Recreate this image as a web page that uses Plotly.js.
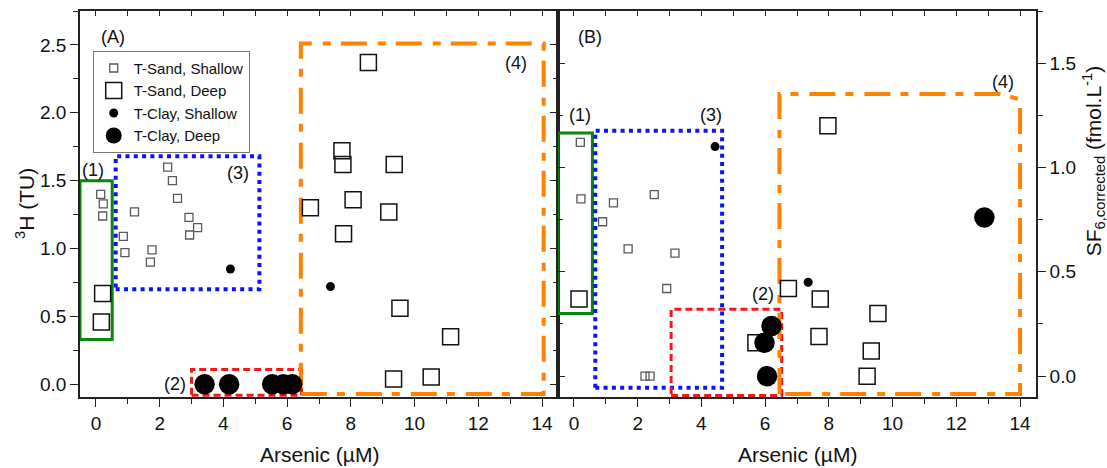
<!DOCTYPE html>
<html>
<head>
<meta charset="utf-8">
<script src="https://cdn.plot.ly/plotly-3.0.1.min.js"></script>
<style>html,body{margin:0;padding:0;background:#fff;}#chart{width:1107px;height:468px;}</style>
</head>
<body>
<div id="chart"></div>
<script>
// ---------- Data: panel (A) tritium vs arsenic ----------
const seriesNames = ["T-Sand, Shallow", "T-Sand, Deep", "T-Clay, Shallow", "T-Clay, Deep"];

const A_sandShallow_x = [0.15, 0.23, 0.21, 0.86, 0.91, 1.21, 1.71, 1.76, 2.25, 2.40, 2.56, 2.92, 2.94, 3.19];
const A_sandShallow_y = [1.40, 1.33, 1.24, 1.09, 0.97, 1.27, 0.90, 0.99, 1.60, 1.50, 1.37, 1.23, 1.10, 1.155];
const A_sandDeep_x = [0.21, 0.17, 8.55, 7.72, 7.75, 9.36, 6.73, 8.07, 9.19, 7.77, 9.54, 11.13, 9.34, 10.52];
const A_sandDeep_y = [0.67, 0.46, 2.37, 1.72, 1.62, 1.62, 1.30, 1.36, 1.27, 1.11, 0.56, 0.35, 0.04, 0.054];
const A_clayShallow_x = [4.22, 7.36];
const A_clayShallow_y = [0.85, 0.72];
const A_clayDeep_x = [3.41, 4.18, 5.53, 5.88, 6.16];
const A_clayDeep_y = [0.0, 0.0, 0.0, 0.0, 0.0];

// ---------- Data: panel (B) SF6 vs arsenic ----------
const B_sandShallow_x = [0.20, 0.22, 1.24, 2.52, 0.90, 1.70, 3.17, 2.91, 2.23, 2.39];
const B_sandShallow_y = [1.12, 0.85, 0.83, 0.87, 0.74, 0.61, 0.59, 0.42, 0.0, 0.0];
const B_sandDeep_x = [0.16, 5.71, 6.73, 7.73, 7.69, 7.97, 9.54, 9.33, 9.20];
const B_sandDeep_y = [0.37, 0.16, 0.42, 0.37, 0.19, 1.20, 0.30, 0.12, 0.0];
const B_clayShallow_x = [4.43, 7.35];
const B_clayShallow_y = [1.10, 0.45];
const B_clayDeep_x = [6.20, 5.98, 6.06, 12.88];
const B_clayDeep_y = [0.24, 0.16, 0.00, 0.76];

// group boxes (data units)  [x0, x1, y0, y1]
const A_box1 = [-0.5, 0.51, 0.33, 1.50];
const A_box2 = [3.0, 6.45, -0.08, 0.11];
const A_box3 = [0.62, 5.13, 0.70, 1.68];
const A_box4 = [6.43, 14.05, -0.07, 2.51];
const B_box1 = [-0.5, 0.58, 0.30, 1.165];
const B_box2 = [3.05, 6.52, -0.093, 0.32];
const B_box3 = [0.67, 4.65, -0.056, 1.176];
const B_box4_x = [6.45, 6.45, 13.35, 14.0, 14.0];
const B_box4_y = [-0.086, 1.352, 1.352, 1.327, -0.086];

const boxLabels = ["(1)", "(2)", "(3)", "(4)"];
const A_labelX = [-0.09, 2.48, 4.45, 13.19];
const A_labelY = [1.58, 0.0, 1.556, 2.365];
const B_labelX = [0.2, 5.94, 4.30, 13.47];
const B_labelY = [1.25, 0.396, 1.25, 1.41];

const xTitle = "Arsenic (\u00b5M)";
const yTitleA = "<sup>3</sup>H (TU)";
const yTitleB = "SF<sub>6,corrected</sub> (fmol.L<sup>-1</sup>)";

// ---------- styles ----------
const FONT = "Liberation Sans, Arial, Helvetica, sans-serif";
const styles = [
  {symbol: "square-open", size: 8, color: "#5a5a5a", lw: 1.3},
  {symbol: "square-open", size: 16, color: "#111", lw: 1.5},
  {symbol: "circle", size: 9, color: "#000", lw: 0},
  {symbol: "circle", size: 20.5, color: "#000", lw: 0}
];

function mk(x, y, i, xa, ya, showleg) {
  const s = styles[i];
  return {
    type: "scatter", mode: "markers", x: x, y: y, name: seriesNames[i],
    legendgroup: "g" + i, showlegend: showleg, xaxis: xa, yaxis: ya,
    marker: {symbol: s.symbol, size: s.size, color: s.color, line: {width: s.lw, color: s.color}},
    hoverinfo: "x+y"
  };
}

const traces = [
  mk(A_sandShallow_x, A_sandShallow_y, 0, "x", "y", true),
  mk(A_sandDeep_x, A_sandDeep_y, 1, "x", "y", true),
  mk(A_clayShallow_x, A_clayShallow_y, 2, "x", "y", true),
  mk(A_clayDeep_x, A_clayDeep_y, 3, "x", "y", true),
  mk(B_sandShallow_x, B_sandShallow_y, 0, "x2", "y2", false),
  mk(B_sandDeep_x, B_sandDeep_y, 1, "x2", "y2", false),
  mk(B_clayShallow_x, B_clayShallow_y, 2, "x2", "y2", false),
  mk(B_clayDeep_x, B_clayDeep_y, 3, "x2", "y2", false),
  {type: "scatter", x: [], y: [], xaxis: "x3", yaxis: "y3", showlegend: false, hoverinfo: "skip"},
  {type: "scatter", x: [], y: [], xaxis: "x4", yaxis: "y4", showlegend: false, hoverinfo: "skip"}
];

const XR = [-0.5, 14.5];
const YRA = [-0.093, 2.75];
const YRB = [-0.1, 1.75];
const AX = {showline: true, linecolor: "#222", linewidth: 1.6, showgrid: false, zeroline: false,
            tickcolor: "#222", tickwidth: 1.4, tickfont: {family: FONT, size: 19, color: "#111"}};

function xBottom(domain, anchor) {
  return Object.assign({}, AX, {domain: domain, anchor: anchor, range: XR, tick0: 0, dtick: 2,
    ticks: "outside", ticklen: 8, minor: {dtick: 1, tick0: 0, ticks: "outside", ticklen: 5, tickwidth: 1.4, tickcolor: "#222", showgrid: false}});
}
function xTop(over, anchor) {
  return Object.assign({}, AX, {overlaying: over, anchor: anchor, side: "top", range: XR, tick0: 0, dtick: 1,
    ticks: "inside", ticklen: 5, showticklabels: false});
}
function yAx(range, side, anchor, ticks, labels, over, len) {
  const o = Object.assign({}, AX, {range: range, side: side, anchor: anchor, tick0: 0, dtick: 0.5,
    tickformat: ".1f", ticks: ticks, ticklen: len, showticklabels: labels,
    minor: {dtick: 0.25, tick0: 0, ticks: ticks, ticklen: 5, tickwidth: 1.4, tickcolor: "#222", showgrid: false}});
  if (over) o.overlaying = over;
  return o;
}

function rect(b, xr, yr, color, width, dash) {
  return {type: "rect", xref: xr, yref: yr, x0: b[0], x1: b[1], y0: b[2], y1: b[3], layer: "below",
          line: {color: color, width: width, dash: dash}};
}
const GREEN = "#0b850b", BLUE = "#0a14f5", RED = "#f01818", ORANGE = "#ff8205";
const DOT = "4px,4.3px", DASH = "7px,4px", DASHDOT = "26px,10px,8px,11px";

let pathB4 = "";
for (let i = 0; i < B_box4_x.length; i++) pathB4 += (i ? " L " : "M ") + B_box4_x[i] + "," + B_box4_y[i];
pathB4 += " Z";

const shapes = [
  rect(A_box1, "x", "y", GREEN, 3, "solid"),
  rect(A_box3, "x", "y", BLUE, 4, DOT),
  rect(A_box2, "x", "y", RED, 3, DASH),
  rect(A_box4, "x", "y", ORANGE, 4, DASHDOT),
  rect(B_box1, "x2", "y2", GREEN, 3, "solid"),
  rect(B_box3, "x2", "y2", BLUE, 4, DOT),
  rect(B_box2, "x2", "y2", RED, 3, DASH),
  {type: "path", xref: "x2", yref: "y2", path: pathB4, layer: "below", line: {color: ORANGE, width: 4, dash: DASHDOT}}
];

const annFont = {family: FONT, size: 18, color: "#111"};
function ann(xr, yr, x, y, text, font, angle) {
  const a = {xref: xr, yref: yr, x: x, y: y, text: text, showarrow: false, font: font,
             xanchor: "center", yanchor: "middle"};
  if (angle) a.textangle = angle;
  return a;
}
const annotations = [
  ann("x", "y", 0.53, 2.56, "(A)", annFont),
  ann("x2", "y2", 0.51, 1.627, "(B)", annFont)
];
for (let i = 0; i < boxLabels.length; i++) {
  annotations.push(ann("x", "y", A_labelX[i], A_labelY[i], boxLabels[i], annFont));
  annotations.push(ann("x2", "y2", B_labelX[i], B_labelY[i], boxLabels[i], annFont));
}
const titleFont = {family: FONT, size: 21, color: "#111"};
annotations.push(ann("paper", "paper", 0.25, -0.15, xTitle, titleFont));
annotations.push(ann("paper", "paper", 0.75, -0.15, xTitle, titleFont));
annotations.push(ann("paper", "paper", -0.0575, 0.5, yTitleA, titleFont, -90));
annotations.push(ann("paper", "paper", 1.0597, 0.611, yTitleB, titleFont, -90));

const layout = {
  width: 1107, height: 468,
  margin: {l: 80, r: 71, t: 11, b: 71},
  paper_bgcolor: "#fff", plot_bgcolor: "#fff",
  font: {family: FONT, color: "#111"},
  showlegend: true,
  legend: {x: 0.0133, y: 0.897, xanchor: "left", yanchor: "top", bgcolor: "#fff",
           bordercolor: "#777", borderwidth: 1, itemsizing: "trace",
           font: {family: FONT, size: 15, color: "#111"}, tracegroupgap: 0},
  xaxis: xBottom([0, 0.5], "y"),
  yaxis: yAx(YRA, "left", "x", "outside", true, null, 8),
  xaxis2: xBottom([0.5, 1], "y2"),
  yaxis2: yAx(YRB, "right", "x2", "outside", true, null, 8),
  xaxis3: xTop("x", "y"),
  yaxis3: yAx(YRA, "right", "x", "inside", false, "y", 8),
  xaxis4: xTop("x2", "y2"),
  yaxis4: yAx(YRB, "left", "x2", "inside", false, "y2", 7),
  shapes: shapes,
  annotations: annotations
};

Plotly.newPlot("chart", traces, layout, {displayModeBar: false});
</script>
</body>
</html>
